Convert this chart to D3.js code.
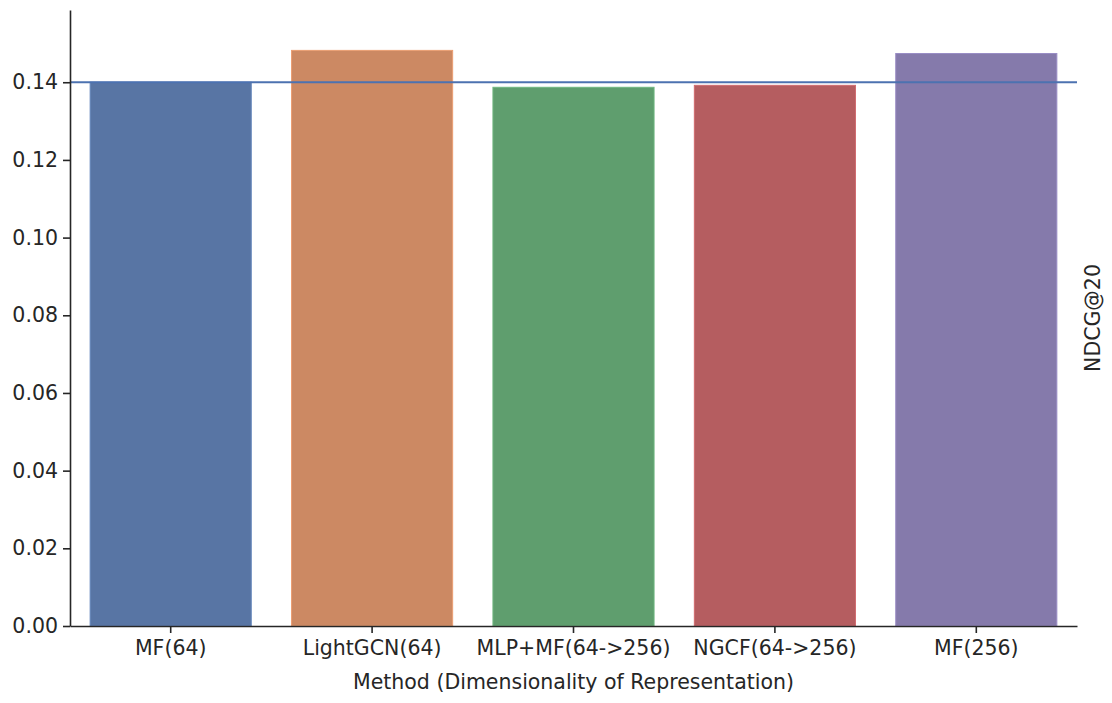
<!DOCTYPE html>
<html>
<head>
<meta charset="utf-8">
<script src="https://cdn.jsdelivr.net/npm/d3@7"></script>
<style>
  body { margin: 0; background: #fff; }
  text { font-family: "DejaVu Sans", sans-serif; fill: #262626; }
</style>
</head>
<body>
<svg id="chart" width="1112" height="703"></svg>
<script>
// values
var methods = ["MF(64)", "LightGCN(64)", "MLP+MF(64->256)", "NGCF(64->256)", "MF(256)"]
var ndcg = [0.1400, 0.1482, 0.1387, 0.1392, 0.1474]
var colors = ["#5875a4", "#cc8963", "#5f9e6e", "#b55d60", "#857aab"]
var baseline = 0.1400
var yTicks = [0, 0.02, 0.04, 0.06, 0.08, 0.10, 0.12, 0.14]

var svg = d3.select('#chart')
var m = {left: 70, right: 35, top: 10, bottom: 77}
var w = 1112 - m.left - m.right
var h = 703 - m.top - m.bottom

var g = svg.append('g').attr('transform', 'translate(' + m.left + ',' + m.top + ')')

var x = d3.scaleBand().domain(methods).range([0, w]).paddingInner(0.2).paddingOuter(0.1)
var y = d3.scaleLinear().domain([0, 0.1586]).range([h, 0])

g.selectAll('rect.bar')
  .data(methods)
  .enter().append('rect')
  .attr('class', 'bar')
  .attr('x', function(d) { return x(d) })
  .attr('width', x.bandwidth())
  .attr('y', function(d, i) { return y(ndcg[i]) })
  .attr('height', function(d, i) { return h - y(ndcg[i]) })
  .attr('fill', function(d, i) { return colors[i] })
  .attr('stroke', function(d, i) { return d3.color(colors[i]).brighter(0.4) })
  .attr('stroke-width', 1)

// reference line
g.append('line')
  .attr('x1', 0).attr('x2', w)
  .attr('y1', y(baseline)).attr('y2', y(baseline))
  .attr('stroke', '#4c72b0').attr('stroke-width', 2)

var yAxis = g.append('g')
  .call(d3.axisLeft(y).tickValues(yTicks).tickFormat(d3.format('.2f'))
    .tickSize(7).tickSizeOuter(0).tickPadding(5))
var xAxis = g.append('g').attr('transform', 'translate(0,' + h + ')')
  .call(d3.axisBottom(x).tickSize(7).tickSizeOuter(0).tickPadding(7))

;[yAxis, xAxis].forEach(function(a) {
  a.select('.domain').attr('stroke', '#262626').attr('stroke-width', 1.6)
  a.selectAll('.tick line').attr('stroke', '#262626').attr('stroke-width', 1.6)
  a.selectAll('.tick text').style('font-size', '20.5px').attr('fill', '#262626')
    .style('font-family', '"DejaVu Sans", sans-serif')
})

svg.append('text')
  .attr('x', m.left + w / 2).attr('y', 689)
  .attr('text-anchor', 'middle')
  .style('font-size', '20.5px')
  .text('Method (Dimensionality of Representation)')

svg.append('text')
  .attr('transform', 'translate(1100,' + (m.top + h / 2) + ') rotate(-90)')
  .attr('text-anchor', 'middle')
  .style('font-size', '20.5px')
  .text('NDCG@20')
</script>
</body>
</html>
